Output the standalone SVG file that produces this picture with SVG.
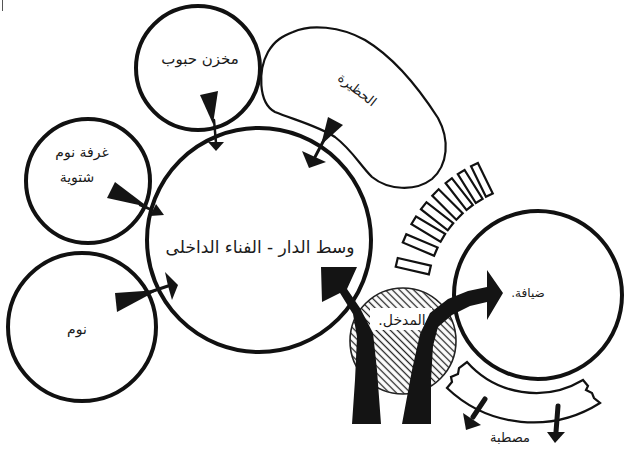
<svg xmlns="http://www.w3.org/2000/svg" width="627" height="452" viewBox="0 0 627 452">
<style>
.c{fill:none;stroke:#111;stroke-width:4}
.thin{fill:none;stroke:#111;stroke-width:2.2}
.v{fill:#fff;stroke:#111;stroke-width:2.2}
.ink{fill:#141414;stroke:none}
.sh{fill:none;stroke:#141414;stroke-linecap:round}
.t{font-family:"DejaVu Sans",sans-serif;fill:#1a1a1a;text-anchor:middle;direction:rtl;unicode-bidi:embed}
</style>
<defs>
<pattern id="hatch" width="5" height="5" patternUnits="userSpaceOnUse" patternTransform="rotate(45)">
<line x1="0" y1="2.5" x2="5" y2="2.5" stroke="#222" stroke-width="1.3"/>
</pattern>
</defs>
<rect width="627" height="452" fill="#fff"/>
<line x1="2.5" y1="0" x2="2.5" y2="11" stroke="#555" stroke-width="1"/>

<g id="n-granary">
<circle class="c" cx="198" cy="68" r="62"/>
<text class="t" x="200" y="64" font-size="15">مخزن حبوب</text>
</g>

<g id="n-barn">
<path class="thin" d="M293,32 C310,24 340,26 365,40 C395,58 420,90 438,118 C450,140 448,165 432,179 C415,192 388,190 372,177 C360,165 352,150 335,137 C318,126 295,120 275,112 C258,103 258,70 268,52 C275,40 283,36 293,32 Z"/>
<text class="t" x="357" y="94" font-size="13" transform="rotate(38 357 90)">الحظيرة</text>
</g>

<g id="n-winter">
<circle class="c" cx="88" cy="181" r="62"/>
<text class="t" x="82" y="157" font-size="14">غرفة نوم</text>
<text class="t" x="77" y="182" font-size="14">شتوية</text>
</g>

<g id="n-bedroom">
<circle class="c" cx="82" cy="327" r="74"/>
<text class="t" x="77" y="334" font-size="14">نوم</text>
</g>

<g id="n-courtyard">
<circle class="c" cx="259" cy="240" r="112"/>
<text class="t" x="260" y="253" font-size="17">وسط الدار - الفناء الداخلى</text>
</g>

<g id="n-vents">
<rect class="v" x="-17" y="-4.5" width="34" height="9" transform="translate(413.3 266.2) rotate(193)"/>
<rect class="v" x="-17" y="-4.5" width="34" height="9" transform="translate(420.2 245) rotate(203)"/>
<rect class="v" x="-17" y="-4.5" width="34" height="9" transform="translate(428.3 229.1) rotate(211)"/>
<rect class="v" x="-17" y="-4.5" width="34" height="9" transform="translate(437.1 216.2) rotate(218)"/>
<rect class="v" x="-17" y="-4.5" width="34" height="9" transform="translate(447.5 204.5) rotate(225)"/>
<rect class="v" x="-17" y="-4" width="34" height="8" transform="translate(459.2 194.1) rotate(232)"/>
<rect class="v" x="-17" y="-4" width="34" height="8" transform="translate(470.2 186.5) rotate(238)"/>
<rect class="v" x="-17" y="-3.8" width="34" height="7.6" transform="translate(481.9 179.9) rotate(244)"/>
</g>

<g id="n-guest">
<circle class="c" cx="538" cy="295" r="84"/>
<text class="t" x="528" y="297" font-size="12">ضيافة.</text>
</g>

<g id="n-platform">
<path class="thin" d="M467,362 A92,92 0 0 0 583,380 L588,386 L586,390 L592,393 L594,398 L600,403 A125,125 0 0 1 447,388 L452,382 L451,377 L458,374 L459,368 Z"/>
<text class="t" x="510" y="442" font-size="13">مصطبة</text>
</g>

<g id="n-entrance">
<circle cx="403" cy="341" r="53" fill="url(#hatch)" stroke="#222" stroke-width="1.6"/>
<rect x="370" y="308" width="62" height="22" fill="#fff"/>
<text class="t" x="402" y="325" font-size="14">المدخل.</text>
</g>

<g id="connectors">
<!-- granary -> courtyard -->
<polygon class="ink" points="200,95 218,91 213,124"/>
<line class="sh" x1="214" y1="120" x2="216" y2="143" stroke-width="2.5"/>
<polygon class="ink" points="208,142 224,142 216,151"/>
<!-- barn -> courtyard -->
<polygon class="ink" points="328,117 343,125 321,145"/>
<line class="sh" x1="325" y1="138" x2="315" y2="157" stroke-width="3"/>
<polygon class="ink" points="302,151 326,162 309,168"/>
<!-- winter -> courtyard -->
<polygon class="ink" points="115,182 107,198 148,207"/>
<line class="sh" x1="140" y1="205" x2="152" y2="210" stroke-width="2.5"/>
<polygon class="ink" points="150,216 156,204 164,215"/>
<!-- bedroom -> courtyard -->
<polygon class="ink" points="115,293 117,312 158,290"/>
<line class="sh" x1="150" y1="292" x2="168" y2="286" stroke-width="3"/>
<polygon class="ink" points="165,272 178,285 172,300 168,286"/>
<!-- entrance -> courtyard -->
<path class="ink" d="M352,424 L381,424 L377,370 L373,333 L360,308 L347,289 L357,267 L321,267 L322,302 L340,293 L353,314 L357,337 L355,380 Z"/>
<!-- entrance -> guest -->
<path class="ink" d="M402,424 L431,424 L431,380 L433,346 L438,327 L452,315 L470,306 L487,302 L487,320 L503,293 L487,270 L487,287 L468,291 L448,299 L430,313 L420,334 L412,370 Z"/>
<!-- platform arrows -->
<line class="sh" x1="485" y1="399" x2="473" y2="417" stroke-width="5"/>
<polygon class="ink" points="463,413 481,425 466,430"/>
<line class="sh" x1="558" y1="406" x2="556" y2="432" stroke-width="5"/>
<polygon class="ink" points="547,432 565,432 555,443"/>
</g>
</svg>
